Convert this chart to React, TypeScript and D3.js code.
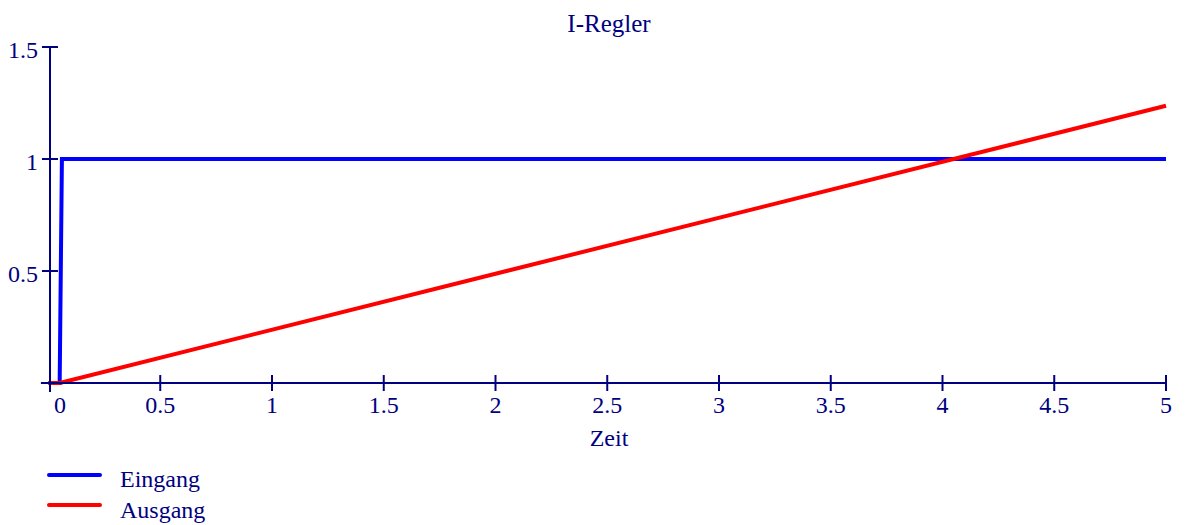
import React from "react";
import * as d3 from "d3";

const title = "I-Regler";
const xLabel = "Zeit";
const xTicks = [0, 0.5, 1, 1.5, 2, 2.5, 3, 3.5, 4, 4.5, 5];
const xTickLabels = ["0", "0.5", "1", "1.5", "2", "2.5", "3", "3.5", "4", "4.5", "5"];
const yTicks = [0, 0.5, 1, 1.5];
const yTickLabels = ["", "0.5", "1", "1.5"];

const inputTime = [0, 0.05, 0.06, 5];
const inputValues = [0, 0, 1, 1];
const outputTime = [0, 0.05, 5];
const outputValues = [0, 0, 1.2375];

const seriesNames = ["Eingang", "Ausgang"];
const seriesColors = ["#0000ff", "#ff0000"];

const W = 1185;
const H = 525;
const navy = "#000080";
const font = "'Liberation Serif', 'Times New Roman', serif";

export default function App() {
  const x = d3.scaleLinear().domain([0, 5]).range([48.5, 1166]);
  const y = d3.scaleLinear().domain([0, 1.5]).range([383, 47]);
  const line = d3
    .line<[number, number]>()
    .x((d) => x(d[0]))
    .y((d) => y(d[1]));
  const inputPts: [number, number][] = inputTime.map((t, i) => [t, inputValues[i]]);
  const outputPts: [number, number][] = outputTime.map((t, i) => [t, outputValues[i]]);
  const x0 = x(0) + 1.5;

  return (
    <svg
      width={W}
      height={H}
      style={{ position: "absolute", left: 0, top: 0, display: "block", background: "#fff" }}
      fontFamily={font}
    >
      <text x={609} y={32} textAnchor="middle" fontSize={25} fill={navy}>
        {title}
      </text>

      {/* series */}
      <path d={line(inputPts) || ""} fill="none" stroke={seriesColors[0]} strokeWidth={4} />
      <path d={line(outputPts) || ""} fill="none" stroke={seriesColors[1]} strokeWidth={4} />

      {/* x axis */}
      <line x1={x(-0.034)} x2={x(5)} y1={y(0)} y2={y(0)} stroke={navy} strokeWidth={2} />
      {xTicks.map((t, i) => (
        <g key={"xt" + i}>
          {i > 0 && (
            <line x1={x(t)} x2={x(t)} y1={y(0) - 8} y2={y(0) + 8} stroke={navy} strokeWidth={2} />
          )}
          <text
            x={i === 0 ? 60 : x(t)}
            y={y(0) + 30}
            textAnchor="middle"
            fontSize={24}
            fill={navy}
          >
            {xTickLabels[i]}
          </text>
        </g>
      ))}
      <text x={609} y={446} textAnchor="middle" fontSize={24} fill={navy}>
        {xLabel}
      </text>

      {/* y axis */}
      <line x1={x0} x2={x0} y1={y(1.5)} y2={y(-0.04)} stroke={navy} strokeWidth={2} />
      {yTicks.map((t, i) => (
        <g key={"yt" + i}>
          {i > 0 && (
            <line x1={x0 - 8} x2={x0 + 8} y1={y(t)} y2={y(t)} stroke={navy} strokeWidth={2} />
          )}
          <text x={38} y={y(t) + 11} textAnchor="end" fontSize={24} fill={navy}>
            {yTickLabels[i]}
          </text>
        </g>
      ))}

      {/* legend */}
      {seriesNames.map((n, i) => (
        <g key={"lg" + i}>
          <line
            x1={49}
            x2={100}
            y1={475 + i * 30}
            y2={475 + i * 30}
            stroke={seriesColors[i]}
            strokeWidth={4}
            strokeLinecap="round"
          />
          <text x={120} y={487 + i * 31} fontSize={24} fill={navy}>
            {n}
          </text>
        </g>
      ))}
    </svg>
  );
}
